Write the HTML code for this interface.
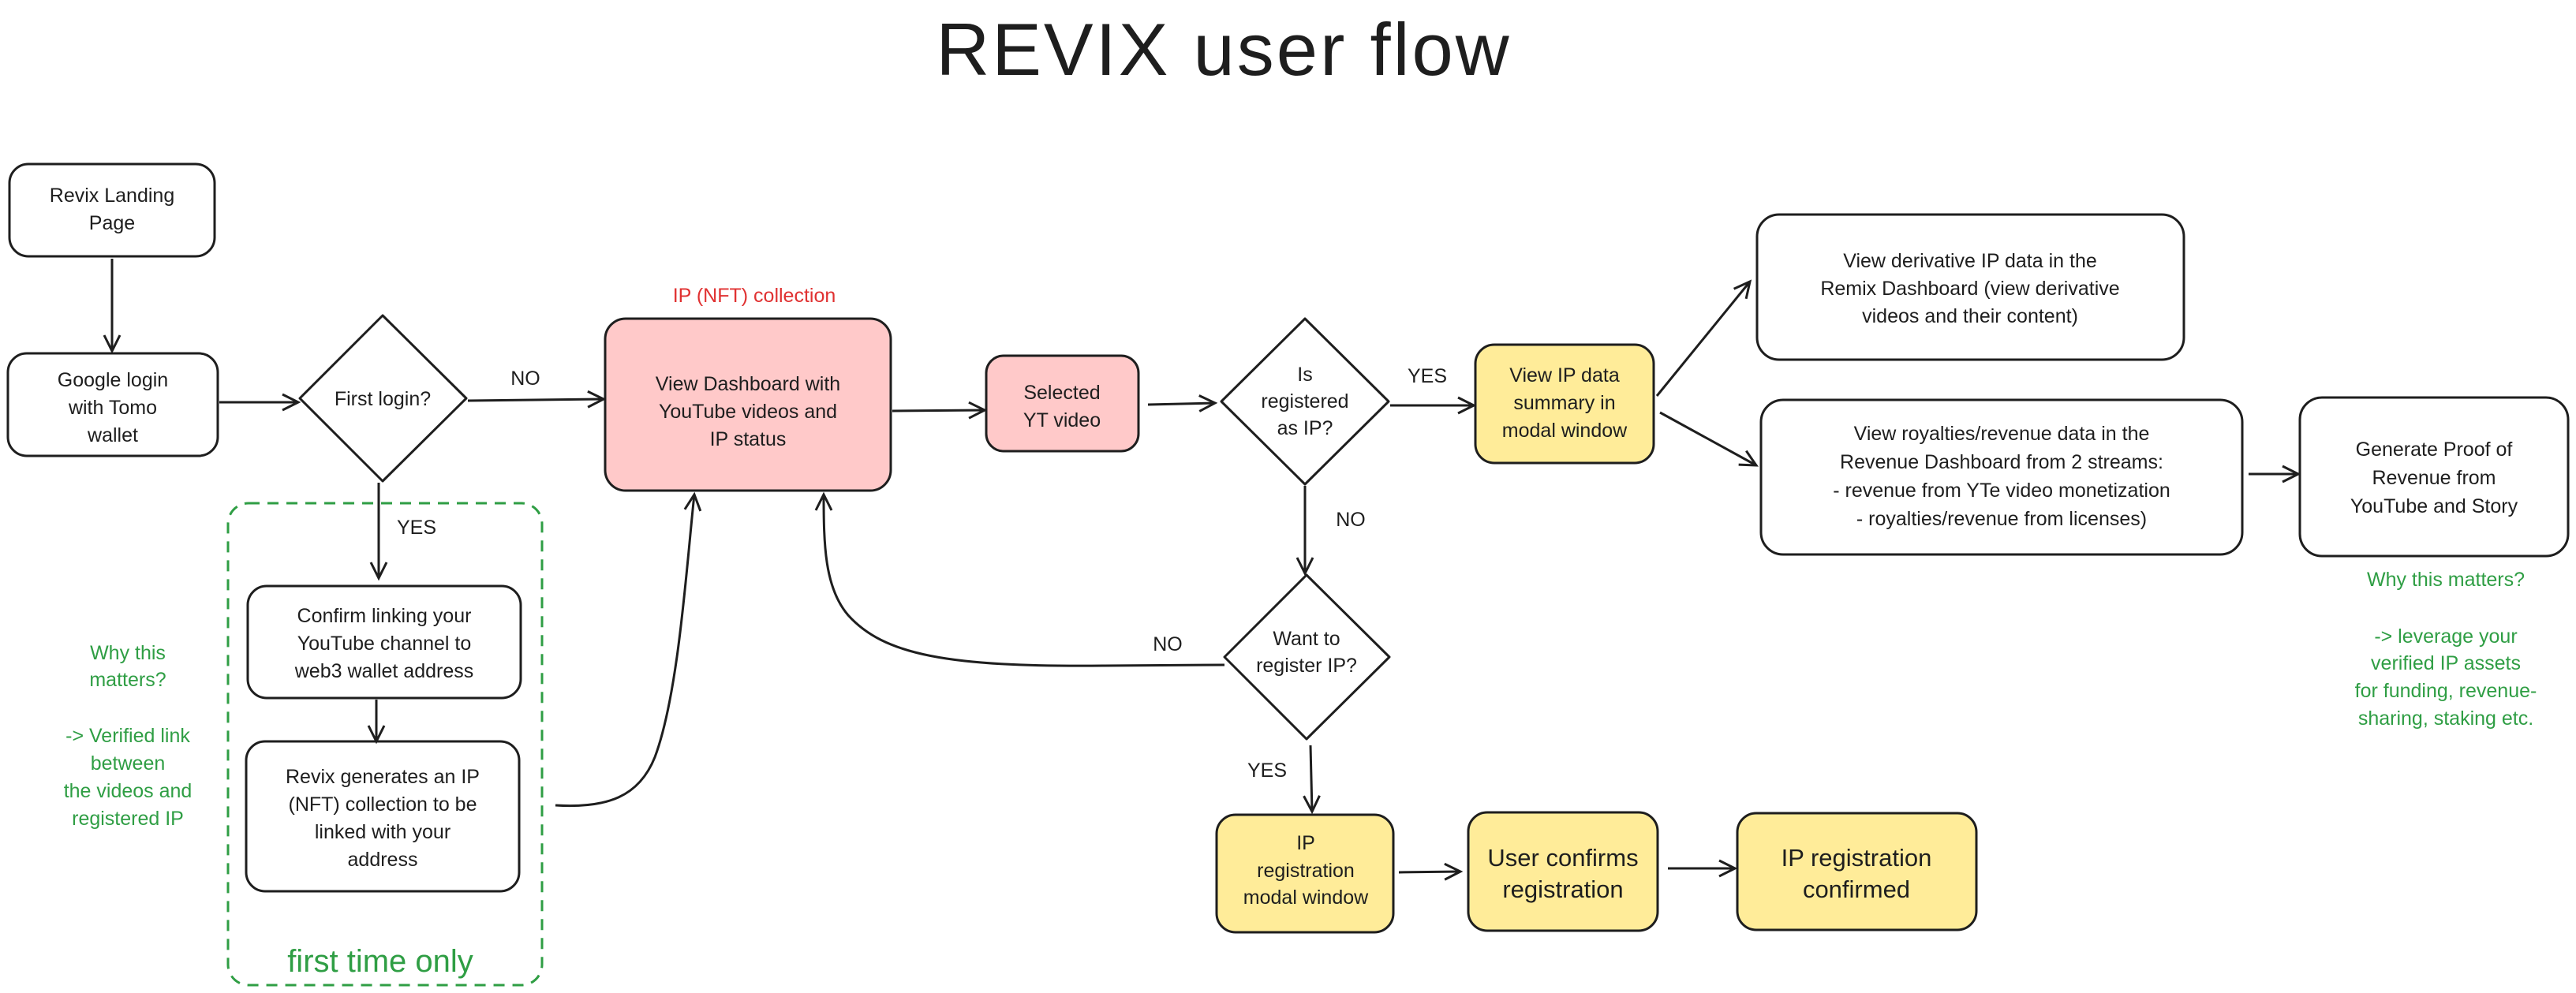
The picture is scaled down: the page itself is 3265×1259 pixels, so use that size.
<!DOCTYPE html>
<html><head><meta charset="utf-8"><style>
html,body{margin:0;padding:0;background:#fff;}
svg{display:block;}
text{font-family:"Liberation Sans",sans-serif;fill:#1e1e1e;}
</style></head><body>
<svg width="3265" height="1259" viewBox="0 0 3265 1259" xmlns="http://www.w3.org/2000/svg">
<defs>
<marker id="a" markerWidth="30" markerHeight="30" refX="22" refY="12" orient="auto" markerUnits="userSpaceOnUse">
<polyline points="2,2 22,12 2,22" fill="none" stroke="#1e1e1e" stroke-width="3"/>
</marker>
</defs>
<g fill="none" stroke="#1e1e1e" stroke-width="3">
<rect x="12" y="208" width="260" height="117" rx="24"/>
<rect x="10" y="448" width="266" height="130" rx="24"/>
<polygon points="485,400 591,505 485,610 380,505" stroke-linejoin="round"/>
<rect x="767" y="404" width="362" height="218" rx="26" fill="#ffc9c9"/>
<rect x="1250" y="451" width="193" height="121" rx="22" fill="#ffc9c9"/>
<polygon points="1654,404 1760,509 1654,614 1548,509" stroke-linejoin="round"/>
<rect x="1870" y="437" width="226" height="150" rx="24" fill="#ffec99"/>
<polygon points="1656,729 1761,833 1656,937 1552,833" stroke-linejoin="round"/>
<rect x="1542" y="1033" width="224" height="149" rx="24" fill="#ffec99"/>
<rect x="1861" y="1030" width="240" height="150" rx="24" fill="#ffec99"/>
<rect x="2202" y="1031" width="303" height="148" rx="24" fill="#ffec99"/>
<rect x="2227" y="272" width="541" height="184" rx="28"/>
<rect x="2232" y="507" width="610" height="196" rx="28"/>
<rect x="2915" y="504" width="340" height="201" rx="28"/>
<rect x="314" y="743" width="346" height="142" rx="24"/>
<rect x="312" y="940" width="346" height="190" rx="24"/>
<rect x="289" y="638" width="398" height="611" rx="26" stroke="#2f9e44" stroke-dasharray="14 10"/>
<g marker-end="url(#a)">
<line x1="142" y1="328" x2="142" y2="445"/>
<line x1="278" y1="510" x2="378" y2="510"/>
<line x1="593" y1="508" x2="765" y2="506"/>
<line x1="480" y1="612" x2="480" y2="733"/>
<line x1="477" y1="887" x2="477" y2="940"/>
<line x1="1131" y1="521" x2="1248" y2="520"/>
<line x1="1455" y1="513" x2="1540" y2="511"/>
<line x1="1762" y1="514" x2="1868" y2="514"/>
<line x1="1654" y1="616" x2="1654" y2="727"/>
<line x1="1661" y1="945" x2="1663" y2="1029"/>
<line x1="1773" y1="1106" x2="1851" y2="1105"/>
<line x1="2114" y1="1101" x2="2199" y2="1101"/>
<line x1="2100" y1="502" x2="2218" y2="357"/>
<line x1="2104" y1="523" x2="2226" y2="590"/>
<line x1="2850" y1="601" x2="2913" y2="601"/>
<path d="M704,1021 C770,1025 810,1010 830,960 C860,880 870,720 880,627"/>
<path d="M1552,843 L1400,844 C1200,846 1120,830 1075,780 C1045,745 1044,690 1044,627"/>
</g>
</g>
<text x="1551" y="95" font-size="94" text-anchor="middle" letter-spacing="3">REVIX user flow</text>
<g font-size="25" text-anchor="middle">
<text x="142" y="256">Revix Landing</text><text x="142" y="291">Page</text>
<text x="143" y="490">Google login</text><text x="143" y="525">with Tomo</text><text x="143" y="560">wallet</text>
<text x="485" y="514">First login?</text>
<text x="666" y="488">NO</text>
<text x="528" y="677">YES</text>
<text x="948" y="495">View Dashboard with</text><text x="948" y="530">YouTube videos and</text><text x="948" y="565">IP status</text>
<text x="956" y="383" style="fill:#e03131">IP (NFT) collection</text>
<text x="1346" y="506">Selected</text><text x="1346" y="541">YT video</text>
<text x="1654" y="483">Is</text><text x="1654" y="517">registered</text><text x="1654" y="551">as IP?</text>
<text x="1809" y="485">YES</text>
<text x="1983" y="484">View IP data</text><text x="1983" y="519">summary in</text><text x="1983" y="554">modal window</text>
<text x="1712" y="667">NO</text>
<text x="1656" y="818">Want to</text><text x="1656" y="852">register IP?</text>
<text x="1480" y="825">NO</text>
<text x="1606" y="985">YES</text>
<text x="1655" y="1077">IP</text><text x="1655" y="1112">registration</text><text x="1655" y="1146">modal window</text>
<text x="2497" y="339">View derivative IP data in the</text><text x="2497" y="374">Remix Dashboard (view derivative</text><text x="2497" y="409">videos and their content)</text>
<text x="2537" y="558">View royalties/revenue data in the</text><text x="2537" y="594">Revenue Dashboard from 2 streams:</text><text x="2537" y="630">- revenue from YTe video monetization</text><text x="2537" y="666">- royalties/revenue from licenses)</text>
<text x="3085" y="578">Generate Proof of</text><text x="3085" y="614">Revenue from</text><text x="3085" y="650">YouTube and Story</text>
<text x="487" y="789">Confirm linking your</text><text x="487" y="824">YouTube channel to</text><text x="487" y="859">web3 wallet address</text>
<text x="485" y="993">Revix generates an IP</text><text x="485" y="1028">(NFT) collection to be</text><text x="485" y="1063">linked with your</text><text x="485" y="1098">address</text>
</g>
<g font-size="31" text-anchor="middle">
<text x="1981" y="1098">User confirms</text><text x="1981" y="1138">registration</text>
<text x="2353" y="1098">IP registration</text><text x="2353" y="1138">confirmed</text>
</g>
<g font-size="25" text-anchor="middle">
<text x="162" y="836" style="fill:#2f9e44">Why this</text><text x="162" y="870" style="fill:#2f9e44">matters?</text>
<text x="162" y="941" style="fill:#2f9e44">-&gt; Verified link</text><text x="162" y="976" style="fill:#2f9e44">between</text><text x="162" y="1011" style="fill:#2f9e44">the videos and</text><text x="162" y="1046" style="fill:#2f9e44">registered IP</text>
<text x="3100" y="743" style="fill:#2f9e44">Why this matters?</text>
<text x="3100" y="815" style="fill:#2f9e44">-&gt; leverage your</text><text x="3100" y="849" style="fill:#2f9e44">verified IP assets</text><text x="3100" y="884" style="fill:#2f9e44">for funding, revenue-</text><text x="3100" y="919" style="fill:#2f9e44">sharing, staking etc.</text>
<text x="482" y="1232" font-size="40" style="fill:#2f9e44">first time only</text>
</g>
</svg>
</body></html>
